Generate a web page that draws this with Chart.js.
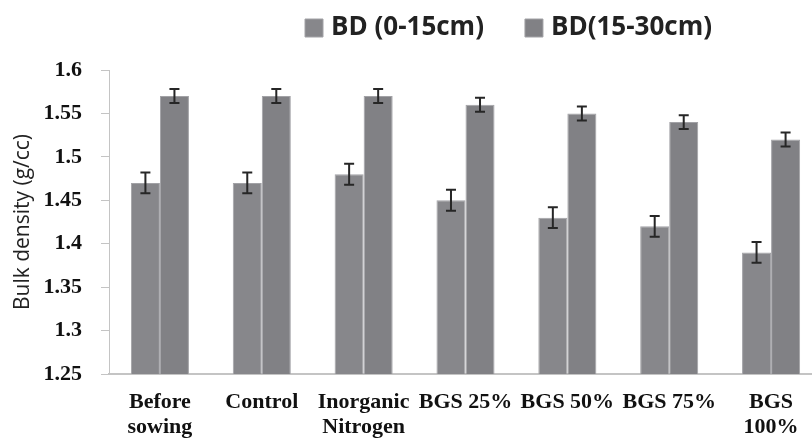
<!DOCTYPE html>
<html>
<head>
<meta charset="utf-8">
<script src="https://cdn.jsdelivr.net/npm/chart.js@4/dist/chart.umd.min.js"></script>
<style>
html,body{margin:0;padding:0;background:#fff;overflow:hidden;}
#wrap{width:826px;height:438px;position:relative;}
</style>
</head>
<body>
<div id="wrap"><canvas id="c"></canvas></div>
<script>
const categories = [["Before","sowing"],"Control",["Inorganic","Nitrogen"],"BGS 25%","BGS 50%","BGS 75%",["BGS","100%"]];
const seriesNames = ["BD (0-15cm)","BD(15-30cm)"];
const bd0_15 = [1.47,1.47,1.48,1.45,1.43,1.42,1.39];
const bd15_30 = [1.57,1.57,1.57,1.56,1.55,1.54,1.52];
const err0_15 = [0.012,0.012,0.012,0.012,0.012,0.012,0.012];
const err15_30 = [0.008,0.008,0.008,0.008,0.008,0.008,0.008];
const yTicks = [1.25,1.3,1.35,1.4,1.45,1.5,1.55,1.6];

const errorBars = {
  id:'errorBars',
  afterDatasetsDraw(chart){
    const ctx = chart.ctx, ys = chart.scales.y;
    chart.data.datasets.forEach((ds,i)=>{
      const meta = chart.getDatasetMeta(i);
      meta.data.forEach((el,j)=>{
        const v = ds.data[j], e = ds.errors[j];
        const yt = ys.getPixelForValue(v+e), yb = ys.getPixelForValue(v-e);
        const x = el.x;
        ctx.save();
        ctx.strokeStyle = '#262626';
        ctx.lineWidth = 2;
        ctx.beginPath();
        ctx.moveTo(x,yt); ctx.lineTo(x,yb);
        ctx.moveTo(x-5,yt); ctx.lineTo(x+5,yt);
        ctx.moveTo(x-5,yb); ctx.lineTo(x+5,yb);
        ctx.stroke();
        ctx.restore();
      });
    });
  }
};

// place the legend row like the original (offset to the right, tighter to top)
const legendPlace = {
  id:'legendPlace',
  afterLayout(chart){
    const lg = chart.legend;
    const p = 46;
    lg.options.labels.padding = p;
    lg.top = 28 - 13 - p;
    lg.left = 310 - p;
    lg.right = 3000;
  }
};

new Chart(document.getElementById('c'),{
  type:'bar',
  data:{
    labels:categories,
    datasets:[
      {label:seriesNames[0],data:bd0_15,errors:err0_15,backgroundColor:'#87878b',borderColor:'#a2a2a6',borderWidth:1},
      {label:seriesNames[1],data:bd15_30,errors:err15_30,backgroundColor:'#818185',borderColor:'#a2a2a6',borderWidth:1}
    ]
  },
  options:{
    responsive:true,
    maintainAspectRatio:false,
    animation:false,
    layout:{padding:{top:24,right:4,bottom:0,left:10}},
    datasets:{bar:{categoryPercentage:0.57,barPercentage:1.0}},
    plugins:{
      legend:{
        position:'top',
        align:'start',
        labels:{
          usePointStyle:true,pointStyle:'rect',
          boxWidth:8,boxHeight:18,padding:10,
          color:'#222',
          font:{family:'"Open Sans", "Liberation Sans", sans-serif',size:26,weight:'bold'}
        }
      },
      tooltip:{enabled:false}
    },
    scales:{
      x:{
        afterFit(s){ s.height = 64; },
        grid:{display:false,drawTicks:false},
        border:{color:'#c4c4c4',width:2},
        ticks:{
          color:'#111',maxRotation:0,autoSkip:false,padding:16,
          font:{family:'"Liberation Serif", serif',size:22,weight:'bold',lineHeight:1.12}
        }
      },
      y:{
        min:1.25,max:1.6,
        afterFit(s){ s.width = 99; },
        afterBuildTicks(ax){ax.ticks = yTicks.map(v=>({value:v}));},
        grid:{display:true,drawOnChartArea:false,drawTicks:true,tickLength:8,color:'#c4c4c4',tickWidth:1},
        border:{color:'#c4c4c4',width:1},
        ticks:{
          color:'#111',padding:19,
          callback:v=>String(+v.toFixed(2)),
          font:{family:'"Liberation Serif", serif',size:22,weight:'bold'}
        },
        title:{
          display:true,text:'Bulk density (g/cc)',color:'#222',padding:{top:0,bottom:10},
          font:{family:'"Open Sans", "Liberation Sans", sans-serif',size:21,lineHeight:1.2}
        }
      }
    }
  },
  plugins:[errorBars,legendPlace]
});
</script>
</body>
</html>
